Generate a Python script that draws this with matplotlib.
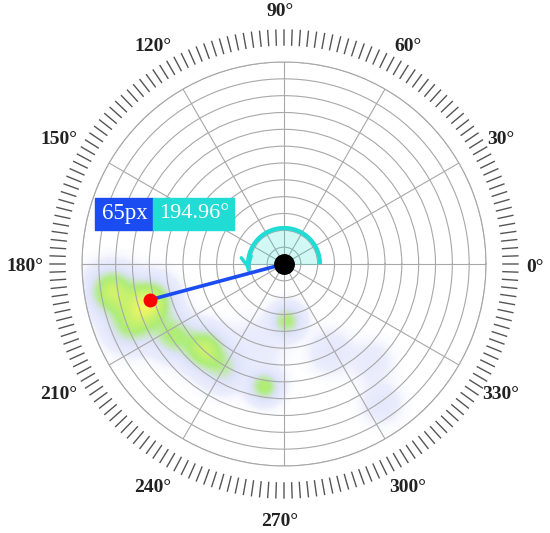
import numpy as np
import matplotlib.pyplot as plt
from matplotlib.colors import LinearSegmentedColormap
from matplotlib.patches import Rectangle

# data
R_MAX = 95
point_r = 65
point_deg = 194.96
dist_label = "65px"
angle_label = "194.96°"

label_deg = np.arange(0, 360, 30)
angle_labels = [f"{d}°" for d in label_deg]

# heat blobs (angle deg, radius, weight, spread)
blob_deg = [196, 189, 201, 213, 227, 240, 261, 273, 252, 298, 312, 305]
blob_r = [66, 82, 77, 62, 55, 57, 58.5, 27, 40, 47, 62, 80]
blob_w = [0.85, 0.7, 0.5, 0.45, 0.65, 0.3, 0.5, 0.45, 0.07, 0.11, 0.08, 0.12]
blob_s = [6.5, 6.5, 7, 6, 6, 6, 4.5, 4.5, 8, 6, 6, 5.5]

blue = "#1a4cf2"
cyan = "#20dcd4"

fig = plt.figure(figsize=(5.5, 5.33), dpi=100)
W, H = 550, 533
cx, cy, rad = 284, 264, 202
ax = fig.add_axes([(cx - rad) / W, (H - cy - rad) / H, 2 * rad / W, 2 * rad / H],
                  projection="polar")
ax.set_ylim(0, R_MAX)
ax.set_xticks(np.deg2rad(label_deg))
ax.set_xticklabels([])
ax.set_yticks(np.linspace(0, R_MAX, 13)[1:])
ax.set_yticklabels([])
ax.grid(True, color="#a8a8a8", lw=0.8)
ax.spines["polar"].set_color("#a8a8a8")
ax.spines["polar"].set_linewidth(0.8)

# heatmap
th = np.linspace(0, 2 * np.pi, 361)
rr = np.linspace(0, R_MAX, 120)
T, Rg = np.meshgrid(th, rr)
X, Y = Rg * np.cos(T), Rg * np.sin(T)
dens = np.zeros_like(X)
for d, r, w, s in zip(blob_deg, blob_r, blob_w, blob_s):
    bx, by = r * np.cos(np.deg2rad(d)), r * np.sin(np.deg2rad(d))
    dens += w * np.exp(-((X - bx) ** 2 + (Y - by) ** 2) / (2 * s ** 2))
cmap = LinearSegmentedColormap.from_list("heat", [
    (0.0, (1, 1, 1, 0)),
    (0.04, (0.92, 0.93, 0.99, 0.5)),
    (0.2, (0.87, 0.89, 0.98, 0.95)),
    (0.45, (0.68, 0.93, 0.47, 1)),
    (0.75, (0.82, 0.95, 0.42, 1)),
    (1.0, (0.98, 0.97, 0.38, 1)),
])
ax.pcolormesh(T, Rg, np.clip(dens, 0, 1), cmap=cmap, vmin=0, vmax=1,
              shading="gouraud", zorder=1)

# outer tick ring
tick_th = np.deg2rad(np.arange(0, 360, 2))
r0, r1 = 219 / rad * R_MAX, 234 / rad * R_MAX
tt = np.repeat(tick_th, 3)
tr = np.tile([r0, r1, np.nan], len(tick_th))
ax.plot(tt, tr, color="#555555", lw=1.0, clip_on=False)

# angle labels (placed in pixels around the ring)
lx0, ly0, lr = 280, 267, 255
for d, lab in zip(label_deg, angle_labels):
    px = lx0 + lr * np.cos(np.deg2rad(d))
    py = ly0 - lr * np.sin(np.deg2rad(d))
    fig.text(px / W, (H - py) / H, lab, ha="center", va="center",
             fontsize=14, fontweight="bold", family="Liberation Serif",
             color="#222222")

# angle arc
arc_r = 36 / rad * R_MAX
fill_th = np.linspace(0, np.pi, 100)
ax.fill_between(fill_th, 0, arc_r, color=cyan, alpha=0.2, lw=0, zorder=3)
arc_th = np.linspace(0, np.deg2rad(point_deg - 8), 100)
ax.plot(arc_th, np.full_like(arc_th, arc_r), color=cyan, lw=3, zorder=4,
        solid_capstyle="butt")
ax.annotate("", xy=(np.deg2rad(point_deg), arc_r),
            xytext=(np.deg2rad(point_deg - 9), arc_r),
            arrowprops=dict(arrowstyle="->", color=cyan, lw=2.5,
                            mutation_scale=18), zorder=4)

# vector to point
ax.plot([0, np.deg2rad(point_deg)], [0, point_r], color=blue, lw=2.6, zorder=5)
ax.plot([np.deg2rad(point_deg)], [point_r], "o", color="red", ms=9, zorder=6)
ax.plot([0], [0], "o", color="black", ms=14, zorder=6)

# label boxes
def fx(x):
    return x / W

def fy(y):
    return (H - y) / H

fig.patches.append(Rectangle((fx(95), fy(230)), fx(153) - fx(95), fy(198) - fy(230),
                             transform=fig.transFigure, color=blue, zorder=10))
fig.patches.append(Rectangle((fx(153), fy(230)), fx(234) - fx(153), fy(198) - fy(230),
                             transform=fig.transFigure, color=cyan, zorder=10))
fig.text(fx(125), fy(214), dist_label, ha="center", va="center", color="white",
         fontsize=16.5, family="Liberation Serif", zorder=11)
fig.text(fx(194), fy(214), angle_label, ha="center", va="center", color="white",
         fontsize=16, family="Liberation Serif", zorder=11)

fig.savefig("out.png", dpi=100)
